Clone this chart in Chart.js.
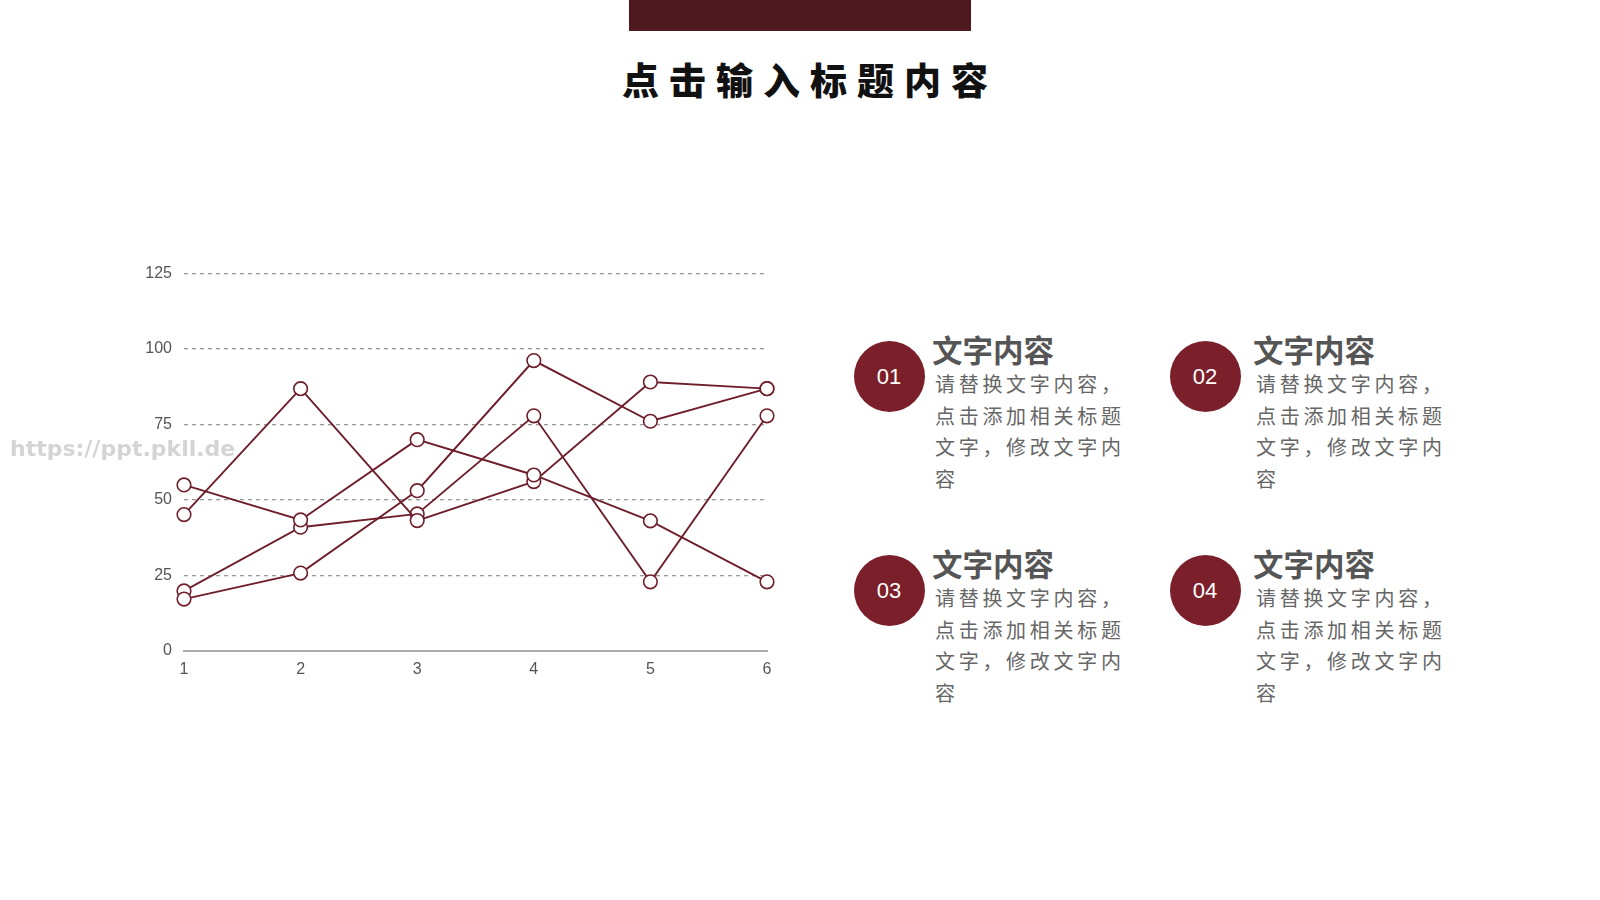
<!DOCTYPE html>
<html>
<head>
<meta charset="utf-8">
<script src="https://cdn.jsdelivr.net/npm/chart.js@4/dist/chart.umd.min.js"></script>
<style>
  html, body { margin: 0; padding: 0; background: #fff; }
  body { width: 1600px; height: 900px; position: relative; overflow: hidden; font-family: "Noto Sans CJK SC", sans-serif; }
  .topbar { position: absolute; left: 629px; top: 0; width: 342px; height: 31px; background: #4f1920; }
  .title { position: absolute; left: 0; width: 1600px; top: 52px; text-align: center; font-size: 37px; font-weight: 900; letter-spacing: 10px; padding-left: 20px; box-sizing: border-box; color: #111; }
  .wm { position: absolute; left: 10px; top: 436px; font-family: "DejaVu Sans", sans-serif; font-size: 22px; font-weight: bold; color: #d4d4d4; }
  #box { position: absolute; left: 120px; top: 252px; width: 680px; height: 440px; }
  .item { position: absolute; }
  .num { position: absolute; width: 71px; height: 71px; border-radius: 50%; background: #7b1f2b; color: #fff; font-family: "Liberation Sans", sans-serif; font-size: 22px; line-height: 71px; text-align: center; }
  .head { position: absolute; font-size: 30.5px; font-weight: bold; color: #555; white-space: nowrap; line-height: 36px; }
  .body { position: absolute; font-size: 20px; color: #666; letter-spacing: 3.7px; line-height: 31.6px; width: 200px; }
</style>
</head>
<body>
<div class="topbar"></div>
<div class="title">点击输入标题内容</div>
<div id="box"><canvas id="chart"></canvas></div>
<div class="wm">https://ppt.pkll.de</div>
<div id="items"></div>
<script>
const categories = ["1", "2", "3", "4", "5", "6"];
const seriesA = [55, 43.4, 70, 58.3, 43.1, 22.9];
const seriesB = [17.2, 25.8, 53.1, 96.2, 76.1, 86.9];
const seriesC = [45.2, 86.9, 43.2, 56.1, 89.1, 86.9];
const seriesD = [19.9, 41.0, 45.4, 77.9, 22.9, 77.9];
const yTicks = [0, 25, 50, 75, 100, 125];

const itemNums = ["01", "02", "03", "04"];
const itemHead = "文字内容";
const itemBody = "请替换文字内容，点击添加相关标题文字，修改文字内容";

const lineColor = "#6e1f2b";

const makeSet = (data) => ({
    data: data,
    borderColor: lineColor,
    borderWidth: 1.9,
    pointRadius: 6.8,
    pointBorderWidth: 1.6,
    pointBackgroundColor: "#fff",
    pointBorderColor: lineColor,
    tension: 0,
});

const ctx = document.getElementById("chart").getContext("2d");
new Chart(ctx, {
    type: "line",
    data: {
        labels: categories,
        datasets: [seriesA, seriesB, seriesC, seriesD].map(makeSet),
    },
    options: {
        responsive: true,
        maintainAspectRatio: false,
        animation: false,
        layout: { padding: { left: 14, right: 33, top: 21, bottom: 11 } },
        plugins: { legend: { display: false }, tooltip: { enabled: false } },
        scales: {
            x: {
                offset: false,
                grid: { display: false, drawTicks: false },
                border: { color: "#aaaaaa", width: 2 },
                ticks: {
                    color: "#555",
                    padding: 9,
                    font: { family: "Liberation Sans Narrow, Liberation Sans", size: 16 },
                },
                afterFit: (axis) => { axis.height = 30; },
            },
            y: {
                min: 0,
                max: 125,
                afterBuildTicks: (axis) => { axis.ticks = yTicks.map((v) => ({ value: v })); },
                grid: {
                    color: (c) => c.tick && c.tick.value === 0 ? "rgba(0,0,0,0)" : "#9a9a9a",
                    lineWidth: 1.3,
                    drawTicks: false,
                },
                border: { display: false, dash: [4, 4] },
                ticks: {
                    color: "#555",
                    padding: 12,
                    font: { family: "Liberation Sans Narrow, Liberation Sans", size: 16 },
                },
                afterFit: (axis) => { axis.width = 50; },
            },
        },
    },
});

const positions = [[889, 376], [1205, 376], [889, 590], [1205, 590]];
const colShift = [0, 5, 0, 5];
const items = document.getElementById("items");
itemNums.forEach((n, i) => {
    const [cx, cy] = positions[i];
    const s = colShift[i];
    const el = document.createElement("div");
    el.className = "item";
    el.innerHTML =
        `<div class="num" style="left:${cx - 35.5}px;top:${cy - 35.5}px">${n}</div>` +
        `<div class="head" style="left:${cx + 43 + s}px;top:${cy - 45}px">${itemHead}</div>` +
        `<div class="body" style="left:${cx + 46 + s}px;top:${cy - 8}px">${itemBody}</div>`;
    items.appendChild(el);
});
</script>
</body>
</html>
